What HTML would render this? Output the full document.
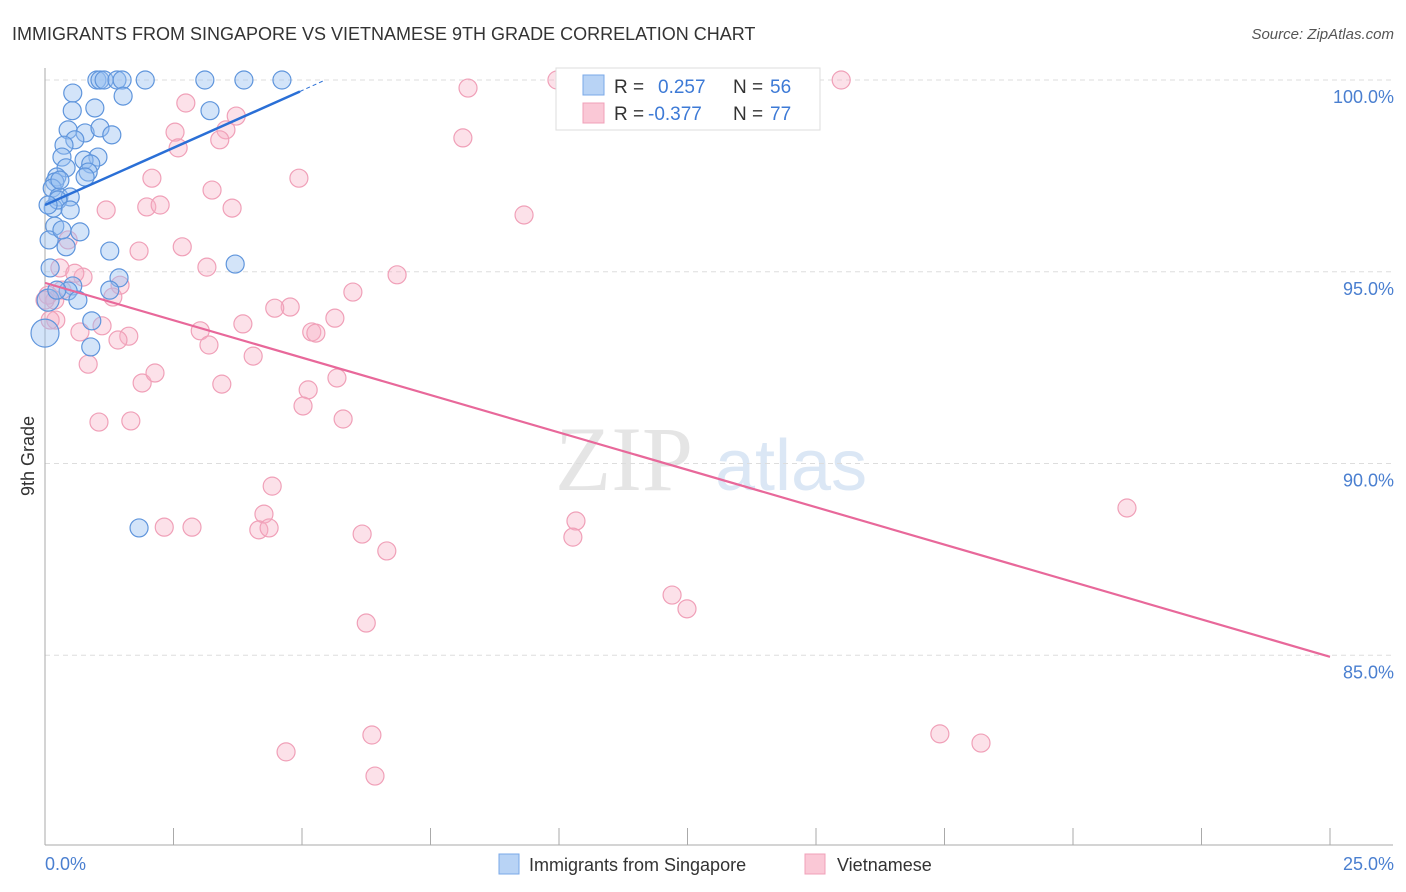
<!DOCTYPE html>
<html><head><meta charset="utf-8">
<style>
body{margin:0;background:#fff;font-family:"Liberation Sans",sans-serif;}
svg{display:block}
</style></head>
<body>
<svg id="chart" width="1406" height="892" viewBox="0 0 1406 892" xmlns="http://www.w3.org/2000/svg">
<text x="12" y="40" font-size="18" fill="#333">IMMIGRANTS FROM SINGAPORE VS VIETNAMESE 9TH GRADE CORRELATION CHART</text>
<text x="1394" y="39" font-size="15" fill="#555" text-anchor="end" font-style="italic">Source: ZipAtlas.com</text>
<g opacity="0.5">
<text x="555" y="490" font-size="92" fill="#ccc" font-family="Liberation Serif,serif">ZIP</text>
<text x="715" y="490" font-size="72" fill="#b8d0ec">atlas</text>
</g>
<g id="grid"></g>
<g id="axes"></g>
<g id="pts"></g>
<g id="trends"></g>
<text transform="translate(34,456) rotate(-90)" font-size="18" fill="#333" text-anchor="middle">9th Grade</text>
<text x="45" y="870" font-size="18" fill="#4a7fd0">0.0%</text>
<text x="1394" y="870" font-size="18" fill="#4a7fd0" text-anchor="end">25.0%</text>
<g>
<rect x="556" y="68" width="264" height="62" fill="#fff" stroke="#ddd"/>
<rect x="583" y="75" width="21" height="20" fill="#b8d3f5" stroke="#7aa8e8"/>
<rect x="583" y="103" width="21" height="20" fill="#fac8d6" stroke="#f0a0b8"/>
<text x="614" y="93" font-size="19" fill="#333">R =</text>
<text x="658" y="93" font-size="19" fill="#3d7ad6">0.257</text>
<text x="733" y="93" font-size="19" fill="#333">N =</text>
<text x="770" y="93" font-size="19" fill="#3d7ad6">56</text>
<text x="614" y="120" font-size="19" fill="#333">R =</text>
<text x="648" y="120" font-size="19" fill="#3d7ad6">-0.377</text>
<text x="733" y="120" font-size="19" fill="#333">N =</text>
<text x="770" y="120" font-size="19" fill="#3d7ad6">77</text>
</g>
<g>
<rect x="499" y="854" width="20" height="20" fill="#b8d3f5" stroke="#7aa8e8"/>
<text x="529" y="871" font-size="18" fill="#333">Immigrants from Singapore</text>
<rect x="805" y="854" width="20" height="20" fill="#fac8d6" stroke="#f0a0b8"/>
<text x="837" y="871" font-size="18" fill="#333">Vietnamese</text>
</g>
</svg>
<script>
const yTicks=[100,95,90,85];
const yTickLabels=["100.0%","95.0%","90.0%","85.0%"];
const xTicks=[0,2.5,5,7.5,10,12.5,15,17.5,20,22.5,25];
const blueX=[1.01,1.07,1.15,1.40,1.50,1.95,3.11,3.87,4.61,0.54,1.52,0.53,0.97,3.21,0.45,0.78,1.07,1.30,0.58,0.37,0.33,1.03,0.76,0.89,0.41,0.84,0.23,0.78,0.19,0.14,0.27,0.49,0.16,0.19,0.68,0.08,0.41,1.26,0.10,3.70,1.44,0.54,0.45,0.64,0.91,0.89,1.83,0.00,0.06,0.29,0.25,0.23,0.06,1.26,0.49,0.33];
const blueY=[100,100,100,100,100,100,100,100,100,99.66,99.58,99.2,99.27,99.2,98.7,98.62,98.75,98.57,98.44,98.3,97.99,97.99,97.91,97.81,97.71,97.6,97.47,97.47,97.34,97.18,96.95,96.95,96.66,96.19,96.04,95.83,95.65,95.54,95.1,95.2,94.84,94.63,94.5,94.26,93.72,93.04,88.32,93.4,94.26,97.39,96.87,94.52,96.74,94.52,96.61,96.09];
const blueR=[9,9,9,9,9,9,9,9,9,9,9,9,9,9,9,9,9,9,9,9,9,9,9,9,9,9,9,9,9,9,9,9,9,9,9,9,9,9,9,9,9,9,9,9,9,9,9,14,11,9,9,9,9,9,9,9];
const pinkX=[9.96,15.49,8.23,2.74,3.72,2.53,3.52,8.13,2.59,3.40,2.08,4.94,3.25,1.19,1.98,2.24,3.64,9.32,0.45,1.83,2.67,0.29,3.15,6.85,0.74,1.46,0.33,5.99,1.32,4.77,4.47,0.19,0.21,5.64,1.11,3.85,3.02,5.19,5.27,1.63,0.68,1.42,3.19,0.84,4.05,1.89,2.14,5.68,3.44,5.12,5.02,1.05,1.67,5.80,4.42,21.05,10.33,4.26,2.32,2.86,4.16,4.36,6.17,10.27,6.65,12.2,12.49,6.25,17.41,18.21,6.36,4.69,6.42,0.06,0.10,0.00,0.58];
const pinkY=[100,100,99.79,99.4,99.06,98.64,98.7,98.49,98.23,98.44,97.44,97.44,97.13,96.61,96.69,96.74,96.66,96.48,95.83,95.54,95.65,95.1,95.12,94.92,94.86,94.65,94.52,94.47,94.34,94.08,94.05,94.26,93.74,93.79,93.59,93.64,93.46,93.43,93.4,93.32,93.43,93.22,93.09,92.59,92.8,92.1,92.36,92.23,92.07,91.92,91.5,91.08,91.11,91.16,89.41,88.84,88.5,88.68,88.34,88.34,88.27,88.32,88.16,88.08,87.72,86.57,86.21,85.84,82.95,82.71,82.92,82.48,81.85,94.39,93.74,94.26,94.96];
const blueTrend=[[0,96.74],[4.96,99.7]];
const blueTrendExt=[[4.96,99.7],[5.45,100]];
const pinkTrend=[[0,94.71],[25,84.96]];
const NS="http://www.w3.org/2000/svg";
function xs(v){return 45+v*51.4;}
function ys(v){return 80+(100-v)*38.35;}
function mk(tag,attrs,parent){const e=document.createElementNS(NS,tag);for(const k in attrs)e.setAttribute(k,attrs[k]);parent.appendChild(e);return e;}
const grid=document.getElementById('grid'),axes=document.getElementById('axes'),pts=document.getElementById('pts'),tr=document.getElementById('trends');
yTicks.forEach((t,i)=>{
 const l=mk('line',{x1:45,x2:1393,y1:ys(t),y2:ys(t),stroke:'#ddd','stroke-dasharray':'5,4'},grid);
 
 
 const tx=mk('text',{x:1394,y:ys(t)+23,'font-size':18,fill:'#4a7fd0','text-anchor':'end'},grid);
 tx.textContent=yTickLabels[i];
 
 
});
const xa=mk('line',{x1:45,x2:1393,y1:845,y2:845,stroke:'#aaa'},axes);


const ya=mk('line',{x1:45,x2:45,y1:68,y2:845,stroke:'#aaa'},axes);


xTicks.forEach(t=>{
 const l=mk('line',{x1:xs(t),x2:xs(t),y1:828,y2:845,stroke:'#aaa'},axes);
 
 
});
pinkX.forEach((x,i)=>{
 const c=mk('circle',{cx:xs(x),cy:ys(pinkY[i]),r:9,fill:'rgba(248,175,198,0.38)',stroke:'#f0a0b8','stroke-width':1.2},pts);
 
 
});
blueX.forEach((x,i)=>{
 const c=mk('circle',{cx:xs(x),cy:ys(blueY[i]),r:blueR[i],fill:'rgba(150,190,240,0.42)',stroke:'#5f95dc','stroke-width':1.2},pts);
 
 
});
const bl=mk('line',{x1:xs(blueTrend[0][0]),y1:ys(blueTrend[0][1]),x2:xs(blueTrend[1][0]),y2:ys(blueTrend[1][1]),stroke:'#2a6fd6','stroke-width':2.5},tr);


const be=mk('line',{x1:xs(blueTrendExt[0][0]),y1:ys(blueTrendExt[0][1]),x2:xs(blueTrendExt[1][0]),y2:ys(blueTrendExt[1][1]),stroke:'#2a6fd6','stroke-width':1,'stroke-dasharray':'4,3'},tr);


const pl=mk('line',{x1:xs(pinkTrend[0][0]),y1:ys(pinkTrend[0][1]),x2:xs(pinkTrend[1][0]),y2:ys(pinkTrend[1][1]),stroke:'#e8689a','stroke-width':2.2},tr);


</script>
</body></html>
